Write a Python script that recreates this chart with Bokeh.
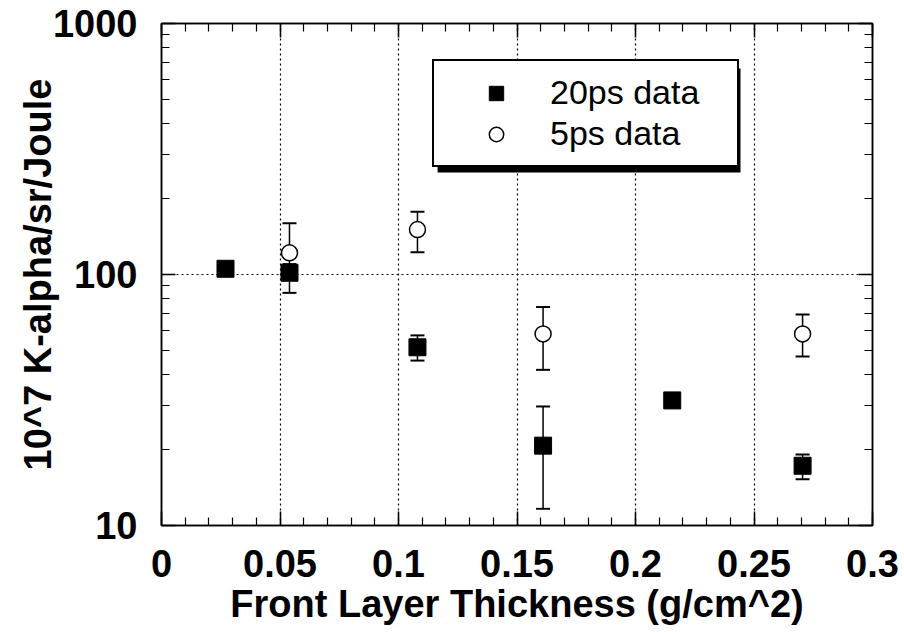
from bokeh.plotting import figure
from bokeh.models import (ColumnDataSource, Whisker, TeeHead, Legend, LegendItem,
                          LinearAxis, FixedTicker, Range1d, BoxAnnotation)
from bokeh.embed import file_html
from bokeh.resources import INLINE

# ---- data ----
x20 = [0.027, 0.054, 0.108, 0.161, 0.2155, 0.2705]
y20 = [105.4, 101.6, 51.3, 20.8, 31.5, 17.3]
lo20 = [105.4, 84.5, 45.4, 11.65, 31.5, 15.3]
hi20 = [105.4, 110.0, 57.2, 29.8, 31.5, 19.2]

x5 = [0.054, 0.108, 0.161, 0.2705]
y5 = [122.0, 151.0, 58.0, 58.0]
lo5 = [104.0, 122.7, 41.7, 47.1]
hi5 = [160.0, 178.0, 74.2, 69.3]

x_ticks = [0, 0.05, 0.1, 0.15, 0.2, 0.25, 0.3]
x_tick_labels = ["0", "0.05", "0.1", "0.15", "0.2", "0.25", "0.3"]
x_minor = [round(0.01 * i, 2) for i in range(31)]
y_ticks = [10, 100, 1000]
y_tick_labels = ["10", "100", "1000"]
y_minor = [20, 30, 40, 50, 60, 70, 80, 90, 200, 300, 400, 500, 600, 700, 800, 900]

FONT = "Liberation Sans"

p = figure(width=904, height=632, x_range=Range1d(0, 0.3), y_range=Range1d(10, 1000),
           y_axis_type="log", output_backend="svg", toolbar_location=None,
           min_border_left=161, min_border_right=32, min_border_top=23, min_border_bottom=107)
p.background_fill_color = "white"
p.border_fill_color = "white"
p.outline_line_color = "black"
p.outline_line_width = 1.5


def style_axis(ax, ticks, minor, overrides, show_labels):
    ax.ticker = FixedTicker(ticks=ticks, minor_ticks=minor)
    ax.major_label_overrides = overrides
    ax.major_tick_in = 14
    ax.major_tick_out = 0
    ax.minor_tick_in = 8
    ax.minor_tick_out = 0
    ax.axis_line_color = "black"
    ax.axis_line_width = 1.5
    ax.major_tick_line_color = "black"
    ax.major_tick_line_width = 1.5
    ax.minor_tick_line_color = "black"
    ax.minor_tick_line_width = 1.2
    ax.major_label_text_font = FONT
    ax.major_label_text_font_style = "bold"
    if show_labels:
        ax.major_label_text_font_size = "38px"
        ax.major_label_text_color = "black"
    else:
        ax.major_label_text_font_size = "2px"
        ax.major_label_text_color = None
        ax.major_label_standoff = 0


xov = dict(zip(x_ticks, x_tick_labels))
yov = dict(zip(y_ticks, y_tick_labels))

style_axis(p.xaxis[0], x_ticks, x_minor, xov, True)
style_axis(p.yaxis[0], y_ticks, y_minor, yov, True)
p.xaxis[0].major_label_standoff = 24
p.yaxis[0].major_label_standoff = 24

p.xaxis.axis_label = "Front Layer Thickness (g/cm^2)"
p.yaxis.axis_label = "10^7 K-alpha/sr/Joule"
for ax in (p.xaxis[0], p.yaxis[0]):
    ax.axis_label_text_font = FONT
    ax.axis_label_text_font_style = "bold"
    ax.axis_label_text_font_size = "38px"
    ax.axis_label_text_color = "black"
p.xaxis[0].axis_label_standoff = 3
p.yaxis[0].axis_label_standoff = -9

top = LinearAxis()
right = LinearAxis()
style_axis(top, x_ticks, x_minor, xov, False)
style_axis(right, y_ticks, y_minor, yov, False)
p.add_layout(top, "above")
p.add_layout(right, "right")

p.xgrid.ticker = FixedTicker(ticks=x_ticks[1:-1])
p.ygrid.ticker = FixedTicker(ticks=[100])
for g in (p.xgrid[0], p.ygrid[0]):
    g.grid_line_color = "black"
    g.grid_line_dash = "2 3"
    g.grid_line_width = 1.2

s20 = ColumnDataSource(dict(x=x20, y=y20, lo=lo20, hi=hi20))
s5 = ColumnDataSource(dict(x=x5, y=y5, lo=lo5, hi=hi5))

for src in (s20, s5):
    w = Whisker(source=src, base="x", upper="hi", lower="lo", dimension="height",
                line_color="black", line_width=1.5, level="underlay",
                upper_head=TeeHead(size=14, line_width=2, line_color="black"),
                lower_head=TeeHead(size=14, line_width=2, line_color="black"))
    p.add_layout(w)

r20 = p.scatter("x", "y", source=s20, marker="square", size=17,
                fill_color="black", line_color="black")
r5 = p.scatter("x", "y", source=s5, marker="circle", size=16,
               fill_color="white", line_color="black", line_width=1.5)

# legend shadow (offset box behind the legend)
shadow = BoxAnnotation(left=0.1165, right=0.2443, bottom=254.9, top=661.8,
                       fill_color="black", fill_alpha=1.0, line_color=None, level="overlay")
p.add_layout(shadow)

legend = Legend(items=[LegendItem(label="20ps data", renderers=[r20]),
                       LegendItem(label="5ps data", renderers=[r5])],
                location=(271, 358), orientation="vertical")
legend.border_line_color = "black"
legend.border_line_alpha = 1.0
legend.border_line_width = 2
legend.background_fill_color = "white"
legend.background_fill_alpha = 1.0
legend.padding = 12
legend.spacing = 2
legend.margin = 0
legend.glyph_width = 100
legend.glyph_height = 36
legend.label_height = 36
legend.label_standoff = 4
legend.label_width = 175
legend.label_text_font = FONT
legend.label_text_font_size = "34px"
legend.label_text_color = "black"
legend.level = "overlay"
p.add_layout(legend, "center")

open("out.html", "w").write(file_html(p, INLINE))
